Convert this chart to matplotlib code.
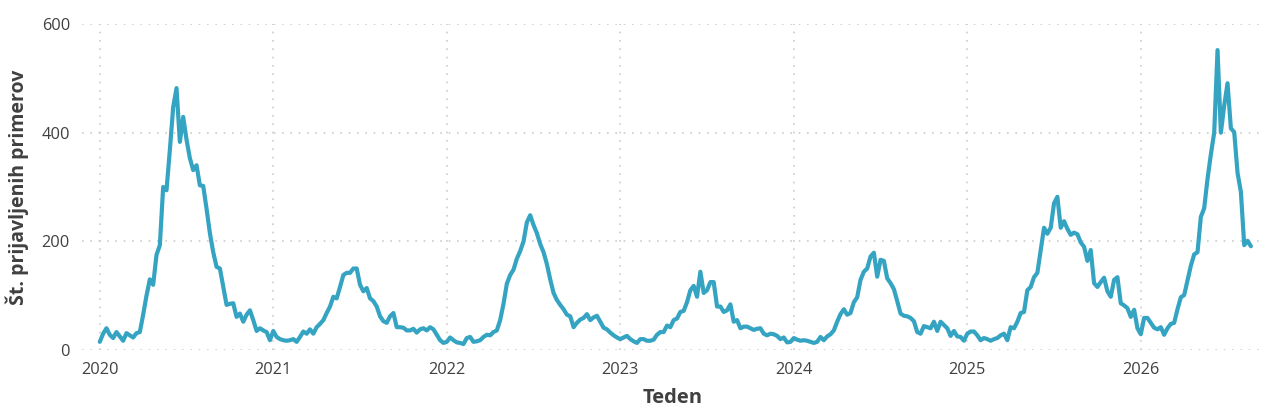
import matplotlib
matplotlib.use("Agg")
import matplotlib.pyplot as plt
import numpy as np

# weekly reported cases, one list per season-year (52 weeks each, last partial)
y2020 = [15, 30, 40, 28, 22, 33, 25, 17, 31, 27, 23, 31, 33, 65, 100, 130, 120, 175, 193, 300,
         294, 368, 447, 482, 383, 429, 387, 353, 331, 340, 303, 302, 260, 215, 180, 153, 150, 117, 83, 85,
         86, 61, 67, 52, 65, 73, 55, 35, 40, 36, 33, 18]
y2021 = [35, 24, 20, 18, 17, 18, 20, 15, 24, 34, 30, 38, 30, 42, 48, 55, 68, 80, 98, 95,
         116, 138, 142, 142, 150, 150, 120, 108, 114, 95, 90, 80, 62, 53, 50, 62, 68, 42, 42, 41,
         36, 36, 39, 32, 38, 40, 36, 42, 38, 28, 18, 13]
y2022 = [15, 23, 18, 14, 13, 11, 22, 24, 15, 16, 18, 24, 28, 27, 33, 36, 55, 85, 122, 138,
         148, 168, 182, 200, 235, 248, 230, 215, 195, 180, 158, 130, 105, 92, 83, 75, 65, 62, 42, 50,
         56, 59, 66, 55, 60, 63, 52, 41, 38, 32, 27, 23]
y2023 = [20, 23, 26, 20, 16, 13, 20, 20, 17, 17, 19, 28, 33, 33, 45, 42, 55, 58, 70, 72,
         88, 110, 118, 98, 144, 105, 110, 125, 125, 80, 80, 70, 73, 84, 52, 55, 40, 43, 43, 40,
         37, 39, 40, 30, 27, 30, 29, 26, 20, 23, 14, 15]
y2024 = [22, 19, 17, 18, 17, 15, 13, 15, 24, 18, 25, 29, 36, 52, 66, 75, 65, 68, 88, 97,
         129, 144, 150, 172, 179, 135, 166, 164, 132, 123, 112, 90, 67, 63, 62, 59, 53, 33, 30, 44,
         42, 40, 52, 35, 52, 46, 40, 26, 35, 25, 24, 17]
y2025 = [30, 34, 34, 27, 18, 22, 20, 17, 20, 22, 27, 30, 18, 42, 40, 52, 68, 70, 110, 116,
         134, 142, 184, 225, 214, 225, 270, 282, 225, 237, 223, 212, 216, 213, 198, 190, 164, 184, 123, 116,
         125, 133, 108, 98, 129, 134, 86, 82, 77, 61, 74, 40]
y2026 = [29, 59, 59, 50, 41, 38, 42, 28, 40, 48, 50, 75, 97, 101, 128, 155, 176, 180, 245, 261,
         315, 360, 400, 552, 400, 450, 491, 408, 401, 326, 291, 193, 201, 191]

years = [2020, 2021, 2022, 2023, 2024, 2025, 2026]
series = [y2020, y2021, y2022, y2023, y2024, y2025, y2026]

x = []
vals = []
for yr, s in zip(years, series):
    for i, v in enumerate(s):
        x.append(yr + i / 52.0)
        vals.append(v)

plt.rcParams['font.family'] = ['Open Sans', 'DejaVu Sans']

fig = plt.figure(figsize=(12.88, 4.19), dpi=100)
ax = fig.add_axes([0.064, 0.1647, 0.916, 0.778])

ax.plot(x, vals, color='#35a4c2', linewidth=3.0, solid_joinstyle='round', solid_capstyle='round')

ax.set_xlim(2019.9, 2026.7)
ax.set_ylim(0, 600)
ax.set_xticks(years)
ax.set_xticklabels([str(y) for y in years])
ax.set_yticks([0, 200, 400, 600])

for sp in ax.spines.values():
    sp.set_visible(False)
ax.tick_params(axis='both', length=0, labelsize=11.8, labelcolor='#404040')
ax.tick_params(axis='x', pad=9)
ax.tick_params(axis='y', pad=9)
ax.grid(True, color='#cccccc', linestyle=(0, (1, 4)), linewidth=1.2)
ax.set_axisbelow(True)

ax.set_xlabel('Teden', fontsize=14.5, fontweight='bold', color='#404040', labelpad=7)
ax.set_ylabel('Št. prijavljenih primerov', fontsize=14, fontweight='bold', color='#404040', labelpad=9)

fig.savefig('out.png', dpi=100)
